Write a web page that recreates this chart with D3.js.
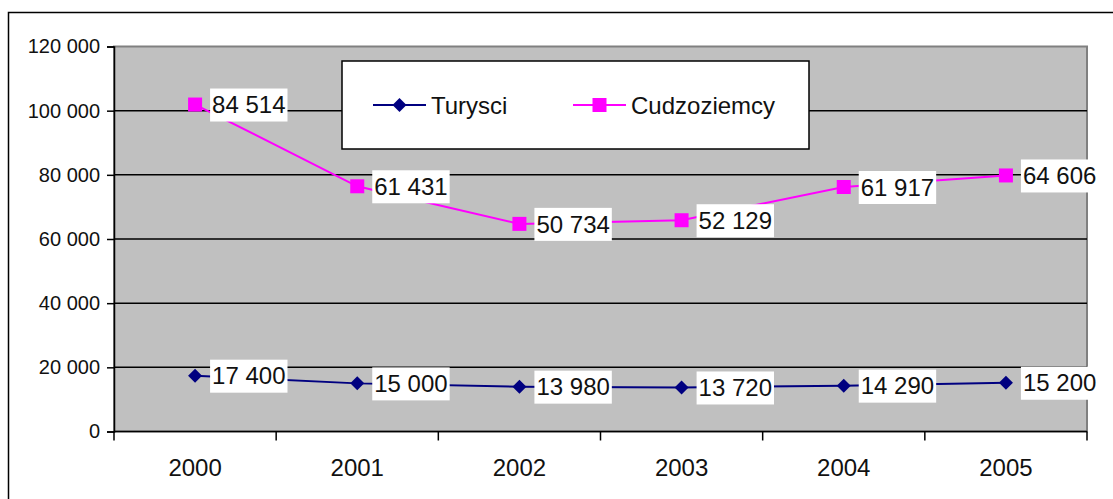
<!DOCTYPE html>
<html lang="pl">
<head>
<meta charset="UTF-8">
<title>Turysci i Cudzoziemcy 2000-2005</title>
<script src="https://d3js.org/d3.v7.min.js"></script>
<style>
  body { margin: 0; background: #ffffff; font-family: "Liberation Sans", Arial, sans-serif; }
  svg { display: block; }
  .ytick text { font-size: 20px; fill: #111; }
  .xtick text { font-size: 24px; fill: #111; }
  .lbl { font-size: 24px; fill: #111; }
  .legend text { font-size: 24px; fill: #111; }
</style>
</head>
<body>
<div id="chart"></div>
<script>
// data
const years = ["2000", "2001", "2002", "2003", "2004", "2005"];
const turysci = [17400, 15000, 13980, 13720, 14290, 15200];
const cudzoziemcy = [84514, 61431, 50734, 52129, 61917, 64606];
const seriesNames = ["Turysci", "Cudzoziemcy"];
const seriesColors = ["#000080", "#ff00ff"];
const yTicks = [0, 20000, 40000, 60000, 80000, 100000, 120000];

const W = 1113, H = 499;
const plot = { left: 114, right: 1087, top: 46.5, bottom: 431.5 };

const svg = d3.select("#chart").append("svg")
  .attr("width", W).attr("height", H);

// outer chart frame (runs off the right and bottom edge)
svg.append("rect")
  .attr("x", 8.5).attr("y", 12.5)
  .attr("width", W + 20).attr("height", H + 20)
  .attr("fill", "#fff").attr("stroke", "#000").attr("stroke-width", 1.5);

const fmt = d3.formatLocale({ decimal: ",", thousands: " ", grouping: [3], currency: ["", ""] }).format(",d");

// stacked lines, like the Excel original
const table = years.map((y, i) => ({ year: y, Turysci: turysci[i], Cudzoziemcy: cudzoziemcy[i] }));
const stacked = d3.stack().keys(seriesNames)(table);

const x = d3.scaleBand().domain(years).range([plot.left, plot.right]);
const y = d3.scaleLinear().domain([0, 120000]).range([plot.bottom, plot.top]);

// plot area
svg.append("rect")
  .attr("x", plot.left).attr("y", plot.top)
  .attr("width", plot.right - plot.left).attr("height", plot.bottom - plot.top)
  .attr("fill", "#c0c0c0").attr("stroke", "#808080").attr("stroke-width", 2);

// gridlines
svg.append("g").selectAll("line")
  .data(yTicks.filter(t => t > 0 && t < 120000))
  .join("line")
  .attr("x1", plot.left).attr("x2", plot.right)
  .attr("y1", d => y(d)).attr("y2", d => y(d))
  .attr("stroke", "#000").attr("stroke-width", 1.5);

// y axis
const yAxis = svg.append("g")
  .attr("class", "ytick")
  .attr("transform", `translate(${plot.left},0)`)
  .call(d3.axisLeft(y).tickValues(yTicks).tickFormat(fmt).tickSize(7).tickPadding(7));
yAxis.select(".domain").attr("stroke", "#000").attr("stroke-width", 1.5);
yAxis.selectAll(".tick line").attr("stroke", "#000").attr("stroke-width", 1.5);
yAxis.selectAll("text").attr("font-family", null).attr("font-size", null);

// x axis: ticks between categories
const xAxisG = svg.append("g")
  .attr("class", "xtick")
  .attr("transform", `translate(0,${plot.bottom})`);
xAxisG.append("line")
  .attr("x1", plot.left).attr("x2", plot.right)
  .attr("stroke", "#000").attr("stroke-width", 1.5);
const bounds = years.map(d => x(d)).concat([plot.right]);
xAxisG.selectAll(".tk").data(bounds).join("line")
  .attr("class", "tk")
  .attr("x1", d => d).attr("x2", d => d)
  .attr("y1", 0).attr("y2", 9)
  .attr("stroke", "#000").attr("stroke-width", 1.5);
xAxisG.selectAll("text").data(years).join("text")
  .attr("x", d => x(d) + x.bandwidth() / 2)
  .attr("y", 44)
  .attr("text-anchor", "middle")
  .text(d => d);

const cx = d => x(d.data.year) + x.bandwidth() / 2;
const line = d3.line().x(cx).y(d => y(d[1]));

const series = svg.selectAll(".series").data(stacked).join("g").attr("class", "series");

series.append("path")
  .attr("d", d => line(d))
  .attr("fill", "none")
  .attr("stroke", (d, i) => seriesColors[i])
  .attr("stroke-width", 2);

// data labels (raw, not stacked values)
series.each(function (s, si) {
  const g = d3.select(this);
  s.forEach(p => {
    const lx = cx(p) + 15, ly = y(p[1]);
    const lg = g.append("g").attr("transform", `translate(${lx},${ly})`);
    const r = lg.append("rect").attr("fill", "#fff");
    const t = lg.append("text").attr("class", "lbl")
      .attr("x", 2).attr("dy", "0.36em")
      .text(fmt(p.data[s.key]));
    const w = t.node().getComputedTextLength();
    r.attr("x", 0).attr("y", -16).attr("width", w + 4).attr("height", 33);
  });
});

// markers on top
const diamond = d3.symbol().type(d3.symbolSquare).size(98);
const square = d3.symbol().type(d3.symbolSquare).size(196);
series.each(function (s, si) {
  d3.select(this).selectAll(".mk").data(s).join("path")
    .attr("class", "mk")
    .attr("transform", d => `translate(${cx(d)},${y(d[1])})` + (si === 0 ? " rotate(45)" : ""))
    .attr("d", si === 0 ? diamond() : square())
    .attr("fill", seriesColors[si]);
});

// legend
const leg = svg.append("g").attr("class", "legend");
leg.append("rect")
  .attr("x", 342).attr("y", 61).attr("width", 467).attr("height", 88)
  .attr("fill", "#fff").attr("stroke", "#000").attr("stroke-width", 1.5);
const legX = [373, 573];
seriesNames.forEach((name, i) => {
  const lg = leg.append("g").attr("transform", `translate(${legX[i]},105)`);
  lg.append("line").attr("x1", 0).attr("x2", 53)
    .attr("stroke", seriesColors[i]).attr("stroke-width", 2);
  lg.append("path").attr("transform", "translate(26.5,0)" + (i === 0 ? " rotate(45)" : ""))
    .attr("d", i === 0 ? diamond() : square())
    .attr("fill", seriesColors[i]);
  lg.append("text").attr("x", 58).attr("dy", "0.36em").text(name);
});
</script>
</body>
</html>
